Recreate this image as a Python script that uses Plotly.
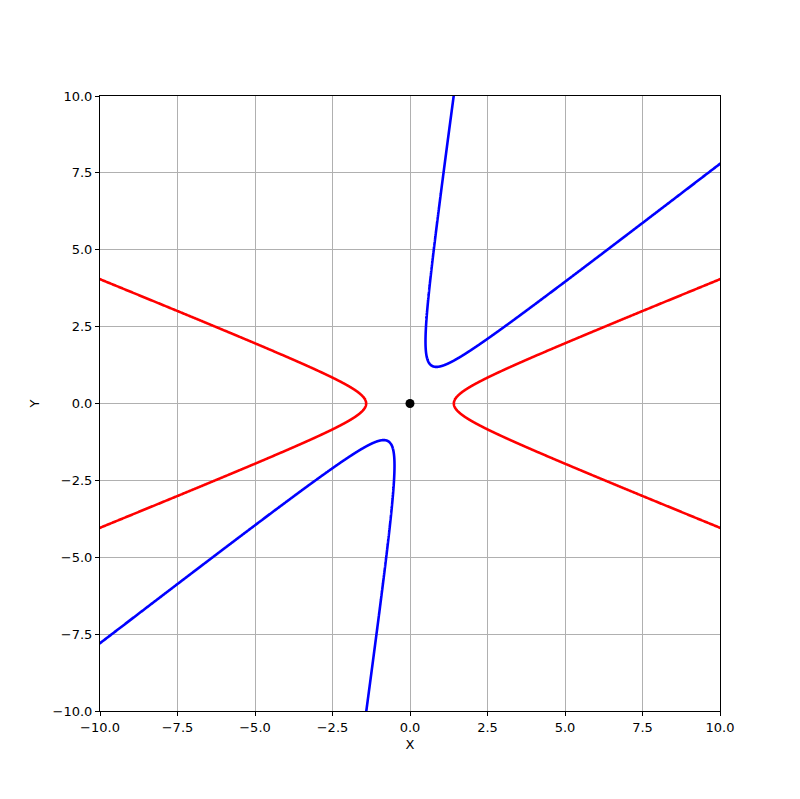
import numpy as np
import plotly.graph_objects as go

# Hyperbola x^2/A2 - y^2/B2 = 1 (red), and the same rotated by ROT_DEG (blue)
A2 = 2.0
B2 = 1.0 / 3.0
ROT_DEG = 60.0
CENTER = [0.0, 0.0]
tick_vals = [-10, -7.5, -5, -2.5, 0, 2.5, 5, 7.5, 10]

a, b = np.sqrt(A2), np.sqrt(B2)
t = np.linspace(-3.5, 3.5, 3001)
th = np.deg2rad(ROT_DEG)

fig = go.Figure()
for sgn in (1, -1):
    x = sgn * a * np.cosh(t)
    y = b * np.sinh(t)
    fig.add_trace(go.Scatter(x=x, y=y, mode="lines",
                             line=dict(color="red", width=2.6, simplify=False),
                             showlegend=False, hoverinfo="skip"))
for sgn in (1, -1):
    x = sgn * a * np.cosh(t)
    y = b * np.sinh(t)
    xr = x * np.cos(th) - y * np.sin(th)
    yr = x * np.sin(th) + y * np.cos(th)
    fig.add_trace(go.Scatter(x=xr, y=yr, mode="lines",
                             line=dict(color="blue", width=2.6, simplify=False),
                             showlegend=False, hoverinfo="skip"))
fig.add_trace(go.Scatter(x=[CENTER[0]], y=[CENTER[1]], mode="markers",
                         marker=dict(color="black", size=9), showlegend=False))

axis_common = dict(range=[-10, 10], tickvals=tick_vals, tickformat=".1f",
                   showgrid=True, gridcolor="#b0b0b0", gridwidth=1,
                   zeroline=False, showline=True, linecolor="black", linewidth=1,
                   mirror=True, ticks="outside", ticklen=4, tickcolor="black",
                   automargin=False,
                   tickfont=dict(family="DejaVu Sans", size=13, color="black"))
fig.update_xaxes(**axis_common, title=dict(text="X", font=dict(family="DejaVu Sans", size=13, color="black"), standoff=6))
fig.update_yaxes(**axis_common, title=dict(text="Y", font=dict(family="DejaVu Sans", size=13, color="black"), standoff=10))
fig.update_layout(width=800, height=799, plot_bgcolor="white", paper_bgcolor="white",
                  margin=dict(l=92, r=88, t=88, b=96, autoexpand=False))
fig.write_html("out.html")
